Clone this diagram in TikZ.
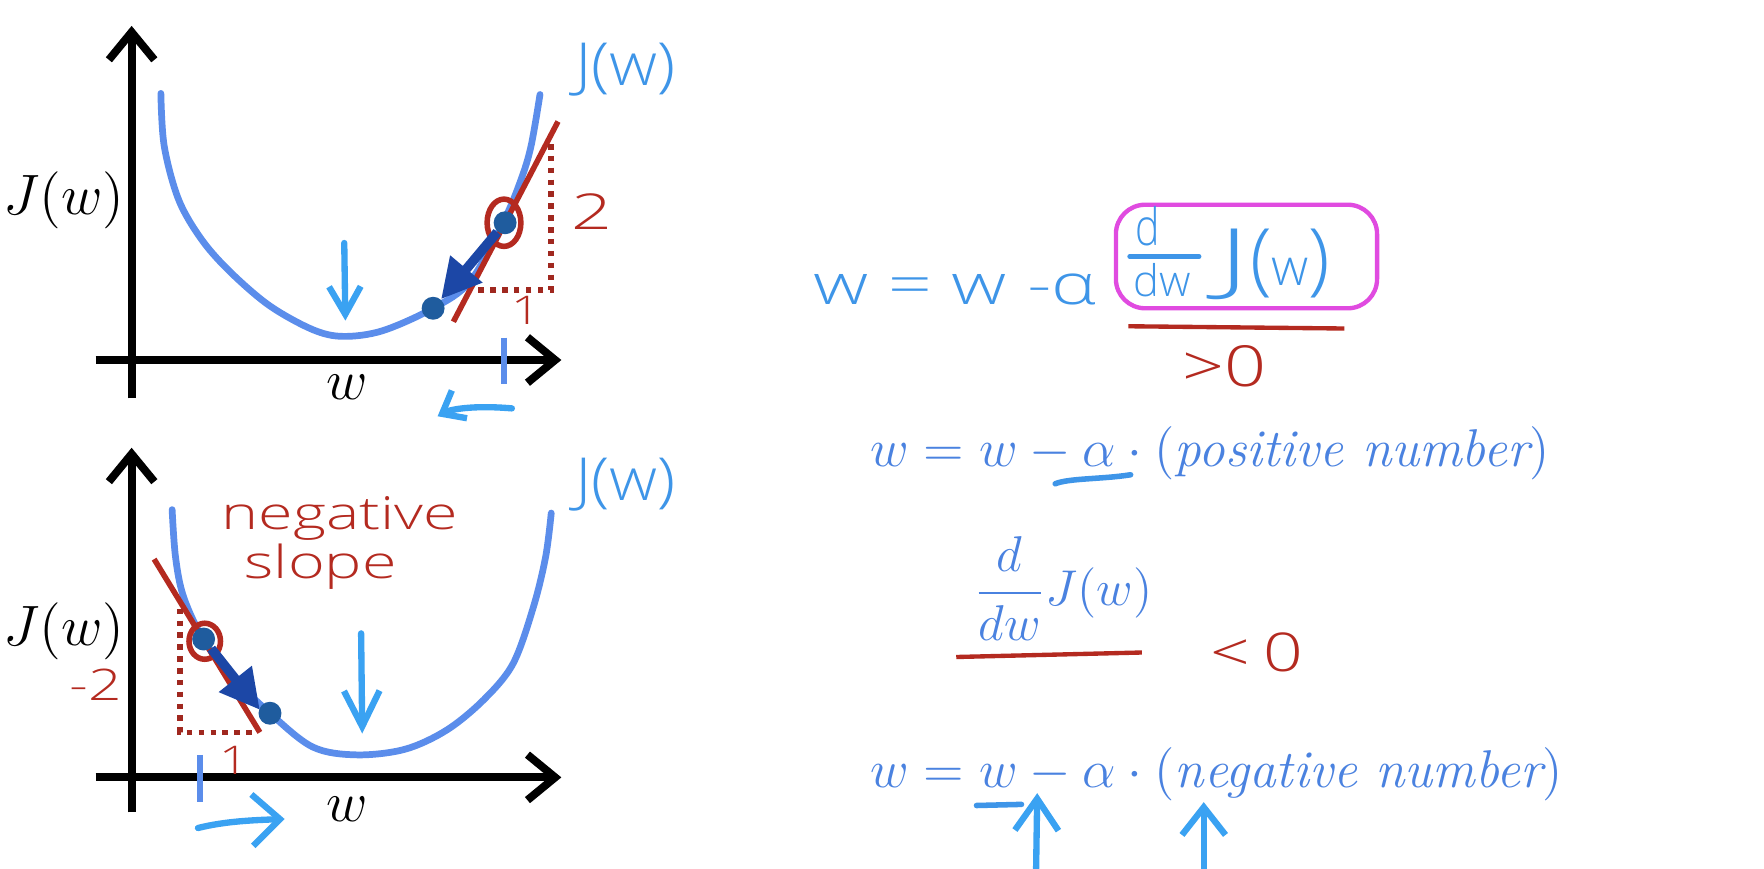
\documentclass[tikz,border=0pt]{standalone}
\usepackage{amsmath}
\usepackage{graphicx}
\usepackage{fontspec}
\newfontfamily\hand{Open Sans}[UprightFont={* Light}]
\usetikzlibrary{arrows.meta}
\definecolor{cblue}{HTML}{5B8DEB}
\definecolor{hblue}{HTML}{3E95E8}
\definecolor{mblue}{HTML}{4A82E0}
\definecolor{lblue}{HTML}{3AA2F2}
\definecolor{dblue}{HTML}{1F5C9E}
\definecolor{ablue}{HTML}{1C47A6}
\definecolor{hred}{HTML}{B42A20}
\definecolor{dred}{HTML}{A0281F}
\definecolor{mag}{HTML}{E04BE0}
\begin{document}
\begin{tikzpicture}[x=0.01cm,y=-0.01cm,
  axis/.style={line width=2pt,-{Straight Barb[length=7pt,width=11.5pt]}},
  curve/.style={cblue,line width=1.7pt,line cap=round},
  tangent/.style={hred,line width=1.4pt},
  dots/.style={dred,line width=1.4pt,dash pattern=on 1.4pt off 1.6pt},
  pt/.style={circle,fill=dblue,inner sep=0pt,minimum size=5.8pt},
  move/.style={ablue,line width=2.4pt,-{Triangle[length=10pt,width=10pt]}},
  hint/.style={lblue,line width=1.6pt,line cap=round,-{Straight Barb[length=7pt,width=8pt]}},
  tick/.style={cblue,line width=1.5pt},
  ring/.style={hred,line width=1.4pt},
  mathlab/.style={inner sep=0pt,font=\fontsize{14.4}{16}\selectfont},
  hw/.style={inner sep=0pt,font=\hand},
  eq/.style={inner sep=0pt,mblue,font=\fontsize{12}{14}\selectfont}]
\useasboundingbox (0,0) rectangle (1568,772);
\fill[white] (0,0) rectangle (1568,772);

% ---------- top plot ----------
\coordinate (ya1) at (117,354);
\coordinate (yb1) at (117,23);
\coordinate (xa1) at (85,320);
\coordinate (xb1) at (499,320);
\draw[axis] (ya1) -- (yb1);
\draw[axis] (xa1) -- (xb1);
\node[mathlab] (jl1) at (57,178) {$J(w)$};
\node[mathlab] (wl1) at (309,344) {$w$};
\draw[curve] plot[smooth,tension=0.55] coordinates {(143,83) (146,130) (159,178) (180,214) (206,243) (240,272) (278,293) (305,299) (340,294) (385,274) (418,250) (448,196) (463,160) (472,130) (480,84)};
\node[hw,hblue] (jh1) at (556,62) {\fontsize{15}{17}\selectfont\scalebox{1.12}[1]{J(w)}};
\coordinate (ta1) at (403,286);
\coordinate (tb1) at (496,108);
\draw[tangent] (ta1) -- (tb1);
\coordinate (dv1) at (490,128);
\coordinate (dc1) at (490,258);
\coordinate (dh1) at (422,258);
\draw[dots] (dv1) -- (dc1) -- (dh1);
\node[hw,hred] (two) at (526,188) {\fontsize{12.5}{14}\selectfont\scalebox{1.45}[1]{2}};
\node[hw,hred] (one1) at (468,276) {\fontsize{10}{12}\selectfont\scalebox{1.3}[1]{1}};
\node[pt] (p1) at (449,198) {};
\node[pt] (p2) at (385,274) {};
\draw[ring] (448,198) ellipse [x radius=0.15cm,y radius=0.21cm];
\draw[move] (p1) -- (392,266);
\coordinate (tk1a) at (448,300);
\coordinate (tk1b) at (448,341);
\draw[tick] (tk1a) -- (tk1b);
\coordinate (da1) at (306,216);
\coordinate (db1) at (307,285);
\draw[hint] (da1) -- (db1);
\coordinate (la1) at (455,363);
\coordinate (lb1) at (389,370);
\draw[hint,-{Straight Barb[length=5pt,width=8pt]}] (la1) .. controls (420,360) and (400,364) .. (lb1);

% ---------- bottom plot ----------
\coordinate (ya2) at (117,722);
\coordinate (yb2) at (117,398);
\coordinate (xa2) at (85,691);
\coordinate (xb2) at (499,691);
\draw[axis] (ya2) -- (yb2);
\draw[axis] (xa2) -- (xb2);
\node[mathlab] (jl2) at (57,561) {$J(w)$};
\node[mathlab] (wl2) at (309,719) {$w$};
\draw[curve] plot[smooth,tension=0.55] coordinates {(153,453) (156,495) (163,530) (180,567) (205,600) (240,634) (278,664) (317,671) (360,666) (397,649) (430,622) (456,590) (474,540) (485,495) (490,456)};
\node[hw,hblue] (jh2) at (556,431) {\fontsize{15}{17}\selectfont\scalebox{1.12}[1]{J(w)}};
\node[hw,hred] (neg) at (302,461) {\fontsize{11.5}{13}\selectfont\scalebox{1.38}[1]{negative}};
\node[hw,hred] (slope) at (285,504) {\fontsize{11.5}{13}\selectfont\scalebox{1.38}[1]{slope}};
\coordinate (ta2) at (137,497);
\coordinate (tb2) at (231,651);
\draw[tangent] (ta2) -- (tb2);
\coordinate (dv2) at (160,541);
\coordinate (dc2) at (160,651);
\coordinate (dh2) at (229,651);
\draw[dots] (dv2) -- (dc2) -- (dh2);
\node[hw,hred] (mtwo) at (85,609) {\fontsize{11}{13}\selectfont\scalebox{1.35}[1]{-2}};
\node[hw,hred] (one2) at (208,676) {\fontsize{10}{12}\selectfont\scalebox{1.3}[1]{1}};
\node[pt] (q1) at (181,568) {};
\node[pt] (q2) at (240,634) {};
\draw[ring] (182,570) ellipse [x radius=0.14cm,y radius=0.16cm];
\draw[move] (q1) -- (231,631);
\coordinate (tk2a) at (178,671);
\coordinate (tk2b) at (178,713);
\draw[tick] (tk2a) -- (tk2b);
\coordinate (da2) at (321,563);
\coordinate (db2) at (322,652);
\draw[hint,-{Straight Barb[length=9pt,width=9pt]}] (da2) -- (db2);
\coordinate (ra2) at (176,736);
\coordinate (rb2) at (253,728);
\draw[hint,-{Straight Barb[length=7pt,width=13pt]}] (ra2) .. controls (200,730) and (225,729) .. (rb2);

% ---------- right side ----------
\node[hw,hblue] (hweq) at (849,257) {\fontsize{14.3}{17}\selectfont\scalebox{1.35}[1]{w = w -α}};
\node[draw=mag,line width=1.1pt,rounded corners=0.26cm,minimum width=2.32cm,minimum height=0.92cm,inner sep=0pt] (box) at (1108,228) {};
\node[hw,hblue] (dnum) at (1020,201) {\fontsize{13}{14}\selectfont\scalebox{0.8}[1]{d}};
\node[hw,hblue] (dden) at (1033,249) {\fontsize{11}{12}\selectfont dw};
\coordinate (bara) at (1004,228);
\coordinate (barb) at (1066,228);
\draw[hblue,line width=1.1pt,line cap=round] (bara) -- (barb);
\node[hw,hblue,anchor=base] (bigj) at (1133,254) {\fontsize{20}{22}\selectfont\scalebox{1.6}[1]{J}(\fontsize{13}{15}\selectfont w\fontsize{20}{22}\selectfont)};
\coordinate (ul1a) at (1003,290);
\coordinate (ul1b) at (1195,292);
\draw[hred,line width=1.1pt] (ul1a) -- (ul1b);
\node[hw,hred] (gt) at (1088,326) {\fontsize{14.3}{16}\selectfont\scalebox{1.3}[1]{>0}};
\node[eq,anchor=base west] (eq1) at (773,415) {\scalebox{1.12}{$w = w - \alpha \cdot (\textit{positive number})$}};
\coordinate (ua1) at (938,430);
\coordinate (ub1) at (1005,422);
\draw[hblue,line width=1.4pt,line cap=round] (ua1) .. controls (950,425) and (980,426) .. (ub1);
\node[eq] (frac) at (945,523) {\scalebox{1.06}{$\dfrac{d}{dw}J(w)$}};
\coordinate (ul2a) at (850,584);
\coordinate (ul2b) at (1015,580);
\draw[hred,line width=1.1pt] (ul2a) -- (ul2b);
\node[hw,hred] (lt) at (1117,580) {\fontsize{13.5}{16}\selectfont\scalebox{1.3}[1]{<\hspace{2.5pt}0}};
\node[eq,anchor=base west] (eq2) at (773,700) {\scalebox{1.12}{$w = w - \alpha \cdot (\textit{negative number})$}};
\coordinate (ua2) at (868,716);
\coordinate (ub2) at (908,715);
\draw[hblue,line width=1.4pt,line cap=round] (ua2) -- (ub2);
\coordinate (up1a) at (921,772);
\coordinate (up1b) at (922,705);
\draw[hint,-{Straight Barb[length=8pt,width=11pt]}] (up1a) -- (up1b);
\coordinate (up2a) at (1070,772);
\coordinate (up2b) at (1070,713);
\draw[hint,-{Straight Barb[length=7pt,width=11pt]}] (up2a) -- (up2b);
\end{tikzpicture}
\end{document}
